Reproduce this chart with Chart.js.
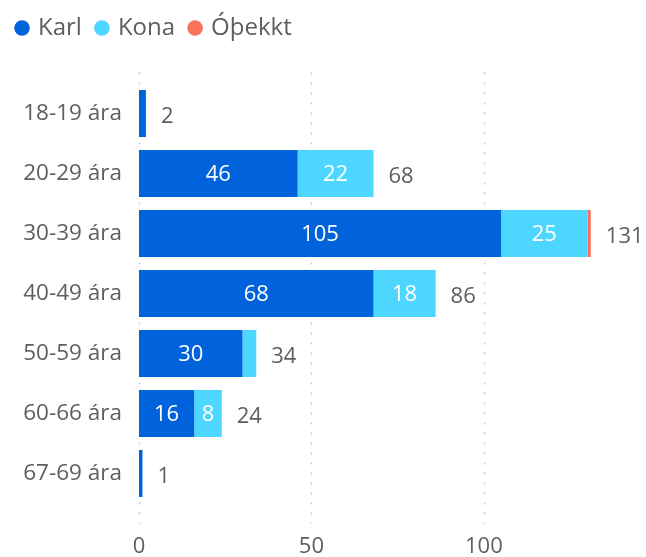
<!DOCTYPE html>
<html>
<head>
<meta charset="utf-8">
<script src="https://cdn.jsdelivr.net/npm/chart.js@4.4.0/dist/chart.umd.min.js"></script>
<style>
  html, body { margin: 0; padding: 0; background: #fff; }
  #wrap { width: 646px; height: 557px; }
</style>
</head>
<body>
<div id="wrap"><canvas id="ageChart"></canvas></div>
<script>
let ageGroups = ["18-19 ára", "20-29 ára", "30-39 ára", "40-49 ára", "50-59 ára", "60-66 ára", "67-69 ára"];
let karl = [2, 46, 105, 68, 30, 16, 1];
let kona = [0, 22, 25, 18, 4, 8, 0];
let othekkt = [0, 0, 1, 0, 0, 0, 0];
let xTicks = [0, 50, 100];

let fontFamily = "'Open Sans', 'DejaVu Sans', sans-serif";
let textGrey = '#605E5C';

// dotted vertical lines, drawn a little past the plot area
let dotGrid = {
  id: 'dotGrid',
  beforeDatasetsDraw(chart) {
    let ctx = chart.ctx, xs = chart.scales.x, area = chart.chartArea;
    ctx.save();
    ctx.strokeStyle = '#C8C6C4';
    ctx.lineWidth = 1.5;
    ctx.setLineDash([2, 8]);
    xTicks.forEach(v => {
      let px = Math.round(xs.getPixelForValue(v)) + 0.5;
      ctx.beginPath();
      ctx.moveTo(px, area.top - 11);
      ctx.lineTo(px, area.bottom + 20);
      ctx.stroke();
    });
    ctx.restore();
  }
};

// values inside the segments + totals after each bar
let barLabels = {
  id: 'barLabels',
  afterDatasetsDraw(chart) {
    let ctx = chart.ctx;
    let ends = [];
    ctx.save();
    ctx.font = '22px ' + fontFamily;
    ctx.textBaseline = 'middle';
    chart.data.datasets.forEach((ds, i) => {
      chart.getDatasetMeta(i).data.forEach((bar, j) => {
        let v = ds.data[j];
        if (!v) return;
        ends[j] = Math.max(ends[j] || 0, bar.x);
        let w = Math.abs(bar.x - bar.base);
        let txt = String(v);
        if (ctx.measureText(txt).width + 4 < w) {
          ctx.fillStyle = '#fff';
          ctx.textAlign = 'center';
          ctx.fillText(txt, (bar.x + bar.base) / 2, bar.y + 1);
        }
      });
    });
    ctx.fillStyle = textGrey;
    ctx.textAlign = 'left';
    ageGroups.forEach((g, j) => {
      let total = karl[j] + kona[j] + othekkt[j];
      let y = chart.getDatasetMeta(0).data[j].y;
      ctx.fillText(String(total), ends[j] + 15, y + 3);
    });
    ctx.restore();
  }
};

// make room between legend and bars
let legendGap = {
  id: 'legendGap',
  beforeInit(chart) {
    let fit = chart.legend.fit;
    chart.legend.fit = function () {
      fit.call(this);
      this.height = 83.5;
    };
  }
};

let ctx = document.getElementById('ageChart').getContext('2d');
let ageChart = new Chart(ctx, {
  type: 'bar',
  data: {
    labels: ageGroups,
    datasets: [
      { label: 'Karl', data: karl, backgroundColor: '#0063DB' },
      { label: 'Kona', data: kona, backgroundColor: '#4DD6FF' },
      { label: 'Óþekkt', data: othekkt, backgroundColor: '#F8735A' }
    ]
  },
  options: {
    indexAxis: 'y',
    responsive: true,
    maintainAspectRatio: false,
    animation: false,
    barPercentage: 0.78,
    categoryPercentage: 1,
    layout: { padding: { top: 0, left: 2, right: 0, bottom: 0 } },
    plugins: {
      legend: {
        position: 'top',
        align: 'start',
        labels: {
          usePointStyle: true,
          pointStyle: 'circle',
          boxWidth: 8,
          boxHeight: 11,
          padding: 16,
          color: textGrey,
          font: { family: fontFamily, size: 24 }
        }
      },
      tooltip: { enabled: false }
    },
    scales: {
      x: {
        stacked: true,
        min: 0,
        max: 147,
        grid: { display: false },
        border: { display: false },
        ticks: {
          stepSize: 50,
          padding: 22,
          color: textGrey,
          font: { family: fontFamily, size: 22 }
        },
        afterBuildTicks: axis => {
          axis.ticks = axis.ticks.filter(t => xTicks.includes(t.value));
        },
        afterFit: axis => { axis.height = 53.5; }
      },
      y: {
        stacked: true,
        grid: { display: false },
        border: { display: false },
        ticks: {
          padding: 9,
          color: textGrey,
          font: { family: fontFamily, size: 22.5 }
        },
        afterFit: axis => { axis.width = 137; }
      }
    }
  },
  plugins: [dotGrid, barLabels, legendGap]
});
</script>
</body>
</html>
